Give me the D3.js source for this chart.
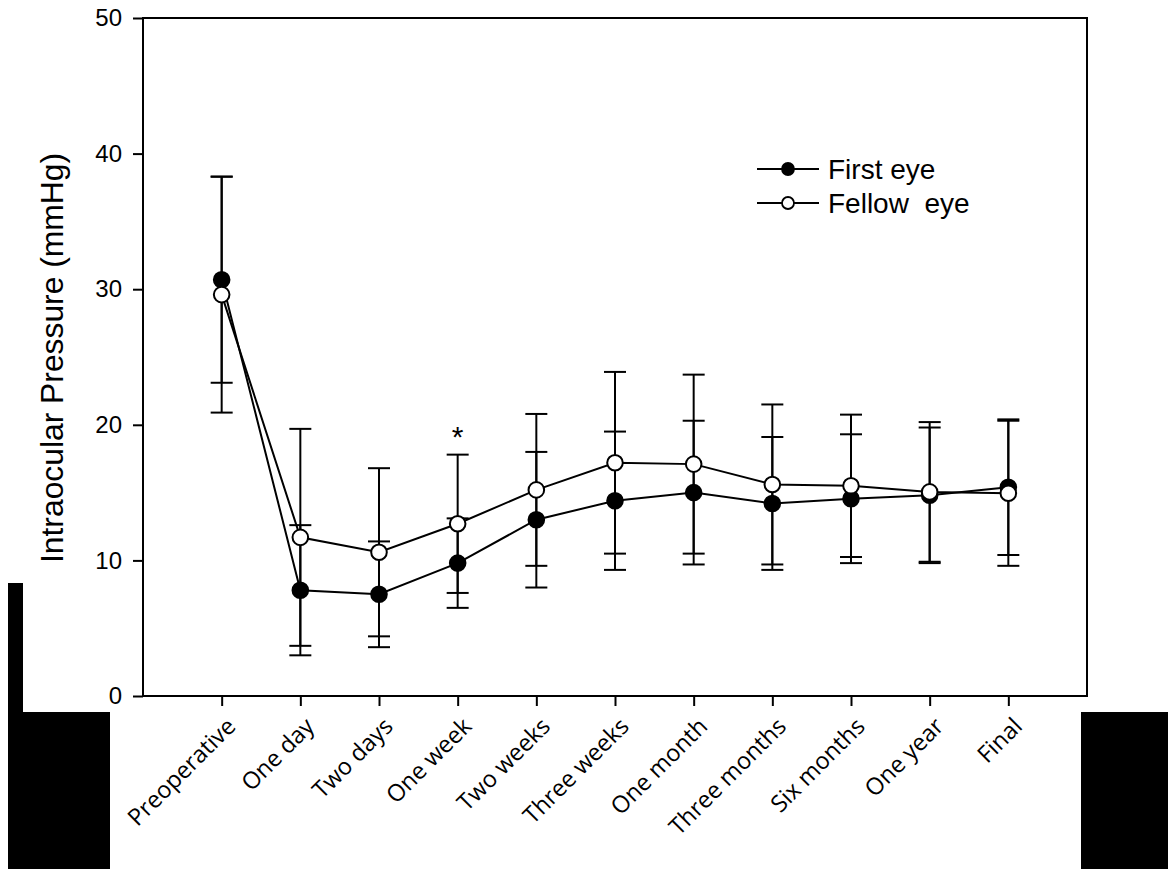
<!DOCTYPE html>
<html><head><meta charset="utf-8">
<script src="https://cdn.jsdelivr.net/npm/d3@7"></script>
<style>html,body{margin:0;padding:0;background:#fff;}svg{display:block;}</style>
</head><body>
<svg id="chart" width="1168" height="869"></svg>
<script>
const categories = ["Preoperative","One day","Two days","One week","Two weeks","Three weeks","One month","Three months","Six months","One year","Final"];
const firstEyeMean = [30.7, 7.8, 7.5, 9.8, 13.0, 14.4, 15.0, 14.2, 14.55, 14.8, 15.4];
const firstEyeSD   = [7.6, 4.8, 3.9, 3.3, 5.0, 5.1, 5.3, 4.9, 4.75, 5.0, 5.0];
const fellowEyeMean = [29.6, 11.7, 10.6, 12.7, 15.2, 17.2, 17.1, 15.6, 15.5, 15.05, 14.95];
const fellowEyeSD   = [8.7, 8.0, 6.2, 5.1, 5.6, 6.7, 6.6, 5.9, 5.25, 5.15, 5.35];
const yTicks = [0, 10, 20, 30, 40, 50];
const seriesNames = ["First eye", "Fellow\u00a0\u00a0eye"];
const annotations = [{index: 3, value: 20.0, text: "*"}];

const svg = d3.select("#chart");
const L = 143, R = 1087, T = 18, B = 696;

// black masking rectangles present in the reference image
svg.append("rect").attr("x", 8).attr("y", 583).attr("width", 15).attr("height", 300).attr("fill", "#000");
svg.append("rect").attr("x", 8).attr("y", 712).attr("width", 102).attr("height", 160).attr("fill", "#000");
svg.append("rect").attr("x", 1081).attr("y", 712).attr("width", 90).attr("height", 160).attr("fill", "#000");

const x = d3.scaleLinear().domain([-1, categories.length]).range([L, R]);
const y = d3.scaleLinear().domain([0, 50]).range([B, T]);

// frame
svg.append("path").attr("d", `M${L},${B}V${T}H${R}V${B}Z`).attr("fill", "none").attr("stroke", "#000").attr("stroke-width", 2);

// y axis
const yAxis = d3.axisLeft(y).tickValues(yTicks).tickSize(10).tickPadding(11);
const gy = svg.append("g").attr("transform", `translate(${L},0)`).call(yAxis);
gy.select(".domain").remove();
gy.selectAll(".tick line").attr("stroke", "#000").attr("stroke-width", 2);
gy.selectAll(".tick text").attr("font-family", "Liberation Sans, Arial, sans-serif").attr("font-size", 24).attr("fill", "#000");

// x axis
const xAxis = d3.axisBottom(x).tickValues(d3.range(categories.length)).tickFormat(i => categories[i]).tickSize(10).tickPadding(4);
const gx = svg.append("g").attr("transform", `translate(0,${B})`).call(xAxis);
gx.select(".domain").remove();
gx.selectAll(".tick line").attr("stroke", "#000").attr("stroke-width", 2);
gx.selectAll(".tick text")
  .attr("font-family", "Open Sans, Noto Sans, sans-serif").attr("font-size", 23.5).attr("fill", "#000")
  .attr("text-anchor", "end").attr("dy", "0.35em")
  .attr("transform", "translate(9,26) rotate(-45)")
  .attr("y", 0).attr("x", 0);

// y label
svg.append("text").attr("transform", `translate(52,358) rotate(-90)`).attr("text-anchor", "middle")
  .attr("dy", "0.35em")
  .attr("font-family", "Liberation Sans, Arial, sans-serif").attr("font-size", 31)
  .attr("textLength", 410).attr("lengthAdjust", "spacingAndGlyphs").attr("fill", "#000")
  .text("Intraocular Pressure (mmHg)");

const series = [
  {name: seriesNames[0], mean: firstEyeMean, sd: firstEyeSD, fill: "#000"},
  {name: seriesNames[1], mean: fellowEyeMean, sd: fellowEyeSD, fill: "#fff"}
];

const line = d3.line().x((d, i) => x(i)).y(d => y(d));
const capW = 11;

series.forEach(s => {
  const g = svg.append("g");
  s.mean.forEach((m, i) => {
    const top = y(m + s.sd[i]), bot = y(m - s.sd[i]), cx = x(i);
    g.append("line").attr("x1", cx).attr("x2", cx).attr("y1", top).attr("y2", bot).attr("stroke", "#000").attr("stroke-width", 2);
    g.append("line").attr("x1", cx - capW).attr("x2", cx + capW).attr("y1", top).attr("y2", top).attr("stroke", "#000").attr("stroke-width", 2);
    g.append("line").attr("x1", cx - capW).attr("x2", cx + capW).attr("y1", bot).attr("y2", bot).attr("stroke", "#000").attr("stroke-width", 2);
  });
});
series.forEach(s => {
  const g = svg.append("g");
  g.append("path").datum(s.mean).attr("d", line).attr("fill", "none").attr("stroke", "#000").attr("stroke-width", 2);
  g.selectAll("circle").data(s.mean).join("circle")
    .attr("cx", (d, i) => x(i)).attr("cy", d => y(d)).attr("r", 7.8)
    .attr("fill", s.fill).attr("stroke", "#000").attr("stroke-width", 2);
});

// annotation
annotations.forEach(a => {
  svg.append("text").attr("x", x(a.index)).attr("y", y(a.value)).attr("text-anchor", "middle")
    .attr("dy", "0.75em")
    .attr("font-family", "Liberation Sans, Arial, sans-serif").attr("font-size", 30).text(a.text);
});

// legend
const lg = svg.append("g");
series.forEach((s, k) => {
  const ly = 169 + k * 34;
  lg.append("line").attr("x1", 757).attr("x2", 819).attr("y1", ly).attr("y2", ly).attr("stroke", "#000").attr("stroke-width", 2);
  lg.append("circle").attr("cx", 788).attr("cy", ly).attr("r", 6).attr("fill", s.fill).attr("stroke", "#000").attr("stroke-width", 1.8);
  lg.append("text").attr("x", 828).attr("y", ly).attr("dy", "0.36em")
    .attr("font-family", "Liberation Sans, Arial, sans-serif").attr("font-size", 28).attr("fill", "#000").text(s.name);
});
</script>
</body></html>
